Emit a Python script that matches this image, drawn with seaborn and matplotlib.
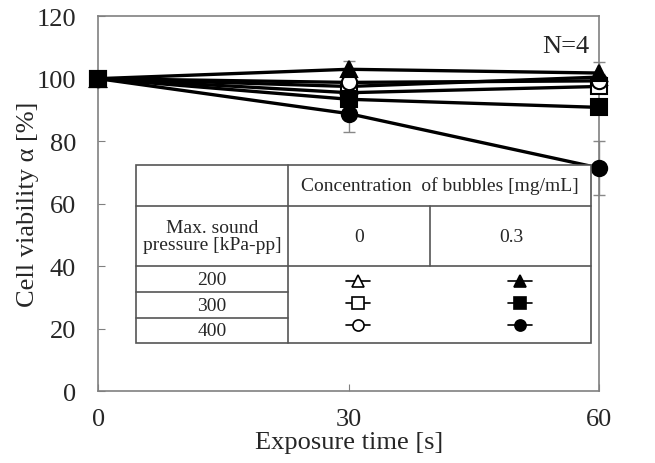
import numpy as np
import pandas as pd
import seaborn as sns
import matplotlib
matplotlib.use("Agg")
import matplotlib.pyplot as plt

# exposure times [s]
times = [0, 30, 60]

# viability [%] for each (pressure, concentration) series
via_200_0 = [100, 97.5, 100.5]
via_300_0 = [100, 95.5, 97.5]
via_400_0 = [100, 98.8, 99.3]
via_200_03 = [100, 103.0, 101.8]
via_300_03 = [100, 93.4, 90.8]
via_400_03 = [100, 88.8, 71.4]

# standard deviations
err_200_0 = [0, 1.0, 1.0]
err_300_0 = [0, 1.0, 1.0]
err_400_0 = [0, 1.0, 1.0]
err_200_03 = [0, 2.8, 3.6]
err_300_03 = [0, 2.0, 1.0]
err_400_03 = [0, 5.8, 8.5]

pressures = ["200", "300", "400"]
concs = ["0", "0.3"]

series = [
    ("200", "0", via_200_0, err_200_0, "^", "white"),
    ("300", "0", via_300_0, err_300_0, "s", "white"),
    ("400", "0", via_400_0, err_400_0, "o", "white"),
    ("200", "0.3", via_200_03, err_200_03, "^", "black"),
    ("300", "0.3", via_300_03, err_300_03, "s", "black"),
    ("400", "0.3", via_400_03, err_400_03, "o", "black"),
]

sns.set_style("ticks")
plt.rcParams["font.family"] = ["Liberation Serif", "DejaVu Serif"]

fig, ax = plt.subplots(figsize=(6.55, 4.64), dpi=100)
fig.subplots_adjust(left=0.15, right=0.915, top=0.963, bottom=0.155)

for p, c, vals, errs, mk, fc in series:
    df = pd.DataFrame({"t": times, "v": vals})
    ax.errorbar(times, vals, yerr=errs, fmt="none", ecolor="#888888",
                elinewidth=1, capsize=4, zorder=2, clip_on=False)
    sns.lineplot(data=df, x="t", y="v", ax=ax, color="black", lw=2.4,
                 marker=mk, markersize=11, markerfacecolor=fc,
                 markeredgecolor="black", markeredgewidth=1.5, zorder=3,
                 clip_on=False)

ax.set_xlim(0, 60)
ax.set_ylim(0, 120)
ax.set_xticks([0, 30, 60])
ax.set_yticks(np.arange(0, 121, 20))
ax.tick_params(direction="in", labelsize=19, length=5, color="gray")
ax.tick_params(axis="y", pad=16)
ax.tick_params(axis="x", pad=12)
for s in ax.spines.values():
    s.set_color("gray")
    s.set_linewidth(1.2)
ax.set_xlabel("Exposure time [s]", fontsize=19, labelpad=1)
ax.set_ylabel("Cell viability α [%]", fontsize=19, labelpad=-2)
ax.text(0.98, 0.904, "N=4", transform=ax.transAxes, fontsize=19, ha="right")

# legend table drawn in axes coordinates
tx = ax.transAxes
x0, x1, x2, x3 = 0.076, 0.378, 0.663, 0.984
y_top, y_h1, y_h2, y_r1, y_r2, y_bot = 0.603, 0.494, 0.333, 0.263, 0.195, 0.128
lc = "#555555"
ax.add_patch(plt.Rectangle((x0, y_bot), x3 - x0, y_top - y_bot, transform=tx,
                           facecolor="white", edgecolor=lc, lw=1.2, zorder=5))
kw = dict(transform=tx, color=lc, lw=1.2, zorder=6)
ax.plot([x1, x1], [y_bot, y_top], **kw)
ax.plot([x0, x3], [y_h1, y_h1], **kw)
ax.plot([x0, x3], [y_h2, y_h2], **kw)
ax.plot([x2, x2], [y_h2, y_h1], **kw)
ax.plot([x0, x1], [y_r1, y_r1], **kw)
ax.plot([x0, x1], [y_r2, y_r2], **kw)

fs = 14
ax.text((x1 + x3) / 2, (y_top + y_h1) / 2, "Concentration  of bubbles [mg/mL]",
        transform=tx, ha="center", va="center", fontsize=fs, zorder=7)
ax.text((x0 + x1) / 2, (y_h1 + y_h2) / 2, "Max. sound\npressure [kPa-pp]",
        transform=tx, ha="center", va="center", fontsize=fs, zorder=7,
        linespacing=1.0)
ax.text((x1 + x2) / 2, (y_h1 + y_h2) / 2, concs[0], transform=tx,
        ha="center", va="center", fontsize=fs, zorder=7)
ax.text((x2 + x3) / 2, (y_h1 + y_h2) / 2, concs[1], transform=tx,
        ha="center", va="center", fontsize=fs, zorder=7)

row_y = [(y_h2 + y_r1) / 2, (y_r1 + y_r2) / 2, (y_r2 + y_bot) / 2]
for i, p in enumerate(pressures):
    ax.text((x0 + x1) / 2, row_y[i], p, transform=tx, ha="center",
            va="center", fontsize=fs, zorder=7)
sym_y = [0.294, 0.235, 0.177]
col_x = {"0": 0.519, "0.3": 0.842}
for p, c, vals, errs, mk, fc in series:
    i = pressures.index(p)
    xc = col_x[c]
    ax.plot([xc - 0.024, xc + 0.024], [sym_y[i], sym_y[i]], transform=tx,
            color="black", lw=1.2, zorder=8)
    ax.plot([xc], [sym_y[i]], transform=tx, marker=mk, markersize=8,
            markerfacecolor=fc, markeredgecolor="black", markeredgewidth=1.2,
            zorder=9)

fig.savefig("out.png", dpi=100)
